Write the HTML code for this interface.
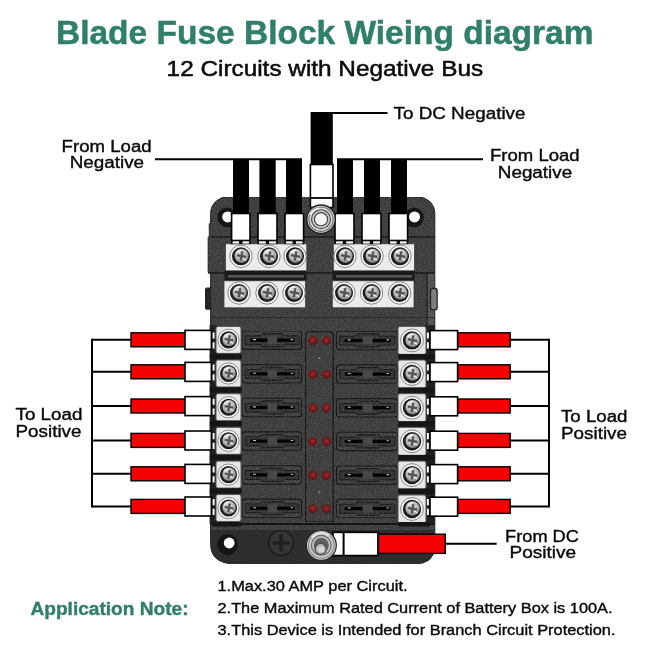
<!DOCTYPE html>
<html>
<head>
<meta charset="utf-8">
<title>Blade Fuse Block Wiring diagram</title>
<style>
html,body{margin:0;padding:0;background:#fff;}
body{width:650px;height:650px;overflow:hidden;font-family:"Liberation Sans",sans-serif;}
svg{display:block;position:absolute;left:0;top:0;opacity:0.9999;will-change:opacity;}
text{font-family:"Liberation Sans",sans-serif;}
</style>
</head>
<body>
<svg width="650" height="650" viewBox="0 0 650 650">
<defs>
  <filter id="grain" x="0" y="0" width="100%" height="100%" color-interpolation-filters="sRGB">
    <feTurbulence type="fractalNoise" baseFrequency="0.85" numOctaves="2" seed="7" result="n"/>
    <feColorMatrix in="n" type="matrix" values="0 0 0 0 0.75  0 0 0 0 0.75  0 0 0 0 0.75  0.4 0.4 0 0 -0.36" result="a"/>
    <feComposite in="a" in2="SourceGraphic" operator="in" result="g"/>
    <feMerge><feMergeNode in="SourceGraphic"/><feMergeNode in="g"/></feMerge>
  </filter>
  <radialGradient id="led" cx="0.5" cy="0.45" r="0.55">
    <stop offset="0" stop-color="#9c2c2c"/>
    <stop offset="0.55" stop-color="#801818"/>
    <stop offset="1" stop-color="#521414"/>
  </radialGradient>
  <radialGradient id="scr" cx="0.45" cy="0.4" r="0.6">
    <stop offset="0" stop-color="#e6e6e6"/>
    <stop offset="0.6" stop-color="#bcbcbc"/>
    <stop offset="1" stop-color="#7a7a7a"/>
  </radialGradient>
  <radialGradient id="stud" cx="0.45" cy="0.45" r="0.55">
    <stop offset="0" stop-color="#f4f4f4"/>
    <stop offset="0.3" stop-color="#bdbdbd"/>
    <stop offset="0.45" stop-color="#6d6d6d"/>
    <stop offset="0.6" stop-color="#d6d6d6"/>
    <stop offset="0.8" stop-color="#9a9a9a"/>
    <stop offset="1" stop-color="#4c4c4c"/>
  </radialGradient>
  <g id="screw">
    <circle r="11.2" fill="#f4f4f4" stroke="#7c7c7c" stroke-width="0.9"/>
    <circle r="9" fill="#1e1e1e"/>
    <circle cx="0.6" cy="-0.5" r="7.1" fill="url(#scr)"/>
    <path d="M-4.2 -0.8L-0.8 -0.8L-0.8 -4.2L0.8 -4.2L0.8 -0.8L4.2 -0.8L4.2 0.8L0.8 0.8L0.8 4.2L-0.8 4.2L-0.8 0.8L-4.2 0.8Z" fill="#5a5a5a" stroke="#3c3c3c" stroke-width="0.6" transform="translate(0.5 -0.3) rotate(10)"/>
    <path d="M-4 -3.8A6 6 0 0 1 0.5 -6.2" stroke="#fafafa" stroke-width="1.3" fill="none" stroke-linecap="round"/>
    <path d="M2.6 2.2L4.6 3.6" stroke="#f0f0f0" stroke-width="1.2" stroke-linecap="round"/>
  </g>
  <g id="term">
    <rect x="-12.5" y="-13.5" width="25" height="27" rx="2" fill="#e6e6e6" stroke="#555" stroke-width="1"/>
    <use href="#screw" transform="scale(0.95)"/>
  </g>
  <g id="termR">
    <rect x="-14" y="-14" width="28" height="28" rx="2" fill="#e6e6e6" stroke="#555" stroke-width="1"/>
    <use href="#screw" transform="scale(1.02)"/>
  </g>
  <g id="leds">
    <circle cx="-6.8" cy="0" r="4.4" fill="url(#led)"/>
    <circle cx="6.8" cy="0" r="4.4" fill="url(#led)"/>
  </g>
</defs>

<text x="56" y="43.7" font-size="32.5" font-weight="bold" fill="#2f7f6b" stroke="#2f7f6b" stroke-width="0.5" textLength="537.5" lengthAdjust="spacingAndGlyphs">Blade Fuse Block Wieing diagram</text>
<text x="166.6" y="76.4" font-size="22" fill="#0a0a0a" stroke="#0a0a0a" stroke-width="0.5" textLength="316.5" lengthAdjust="spacingAndGlyphs">12 Circuits with Negative Bus</text>
<path d="M155 159.3H302M337 159.3H483" stroke="#000" stroke-width="2" fill="none"/>
<path d="M321 113H387.5" stroke="#000" stroke-width="2" fill="none"/>
<g filter="url(#grain)">
<rect x="205" y="287.6" width="7" height="22.2" rx="1.8" fill="#1e1e1e"/>
<path d="M227 197H418.5A16.3 16.5 0 0 1 434.8 213.5V546Q434.8 564 414 564H236Q210.6 564 210.6 544V272.5H208.2V237H209.3V223.7H210.6V213.5A16.4 16.5 0 0 1 227 197Z" fill="#3a3a3a" stroke="#1c1c1c" stroke-width="1"/>
<rect x="427.2" y="273" width="7" height="55" fill="#505050"/>
<path d="M427.2 273V328" stroke="#1a1a1a" stroke-width="1.2"/>
<rect x="430.5" y="288.5" width="6.6" height="21.2" rx="2" fill="#7a7a7a" stroke="#1a1a1a" stroke-width="1.3"/>
</g>
<circle cx="227.2" cy="217.5" r="9.8" fill="#161616"/>
<circle cx="227.7" cy="216.9" r="5.5" fill="#fff"/>
<circle cx="414" cy="217.5" r="9.8" fill="#161616"/>
<circle cx="414.5" cy="216.9" r="5.5" fill="#fff"/>
<path d="M211.1 530H434.2V546Q434.2 563.5 414 563.5H236Q211.1 563.5 211.1 544Z" fill="#2d2d2d"/>
<path d="M211 524H434.5" stroke="#151515" stroke-width="2"/>
<circle cx="227.6" cy="544.6" r="10.4" fill="#141414"/><circle cx="229.2" cy="543" r="5.4" fill="#fff"/>
<circle cx="281" cy="543" r="12.3" fill="#353535" stroke="#1a1a1a" stroke-width="1.3"/>
<path d="M273.8 543H288.2M281 535.8V550.2" stroke="#202020" stroke-width="3.6" stroke-linecap="round"/>
<path d="M211 237H434.5" stroke="#1c1c1c" stroke-width="1.5"/>
<path d="M208.2 273H434.5" stroke="#181818" stroke-width="1.4"/>
<path d="M211 317.5H434.5" stroke="#2a2a2a" stroke-width="1"/>
<rect x="225.4" y="243.8" width="81.4" height="27.5" fill="#ebebeb" stroke="#3c3c3c" stroke-width="0.8"/>
<use href="#screw" x="241" y="256.3"/>
<use href="#screw" x="269" y="256.3"/>
<use href="#screw" x="295" y="256.3"/>
<rect x="333.3" y="243.8" width="81.19999999999999" height="27.5" fill="#ebebeb" stroke="#3c3c3c" stroke-width="0.8"/>
<use href="#screw" x="345" y="256.3"/>
<use href="#screw" x="372" y="256.3"/>
<use href="#screw" x="400" y="256.3"/>
<rect x="224.5" y="270.5" width="82" height="11" fill="#1b1b1b"/><rect x="332.5" y="270.5" width="82" height="11" fill="#1b1b1b"/>
<rect x="228" y="275" width="76" height="2.6" fill="#555"/><rect x="336" y="275" width="76" height="2.6" fill="#555"/>
<rect x="224" y="280.8" width="81.39999999999998" height="27.0" fill="#ebebeb" stroke="#3c3c3c" stroke-width="0.8"/>
<use href="#screw" x="239" y="293"/>
<use href="#screw" x="267" y="293"/>
<use href="#screw" x="294" y="293"/>
<rect x="332.3" y="280.8" width="81.69999999999999" height="27.0" fill="#ebebeb" stroke="#3c3c3c" stroke-width="0.8"/>
<use href="#screw" x="344" y="293"/>
<use href="#screw" x="371.6" y="293"/>
<use href="#screw" x="399.6" y="293"/>
<rect x="233" y="159" width="16" height="55" fill="#000"/>
<rect x="231.6" y="213.5" width="18.400000000000006" height="27" fill="#fff" stroke="#000" stroke-width="1.6"/>
<rect x="231.0" y="240" width="19.600000000000005" height="4.2" fill="#0c0c0c"/>
<rect x="232.6" y="241.3" width="6.5" height="2.3" fill="#f4f4f4"/><rect x="242.5" y="241.3" width="6.5" height="2.3" fill="#f4f4f4"/>
<rect x="259.4" y="159" width="16.30000000000001" height="55" fill="#000"/>
<rect x="258" y="213.5" width="19" height="27" fill="#fff" stroke="#000" stroke-width="1.6"/>
<rect x="257.4" y="240" width="20.2" height="4.2" fill="#0c0c0c"/>
<rect x="259" y="241.3" width="6.8" height="2.3" fill="#f4f4f4"/><rect x="269.2" y="241.3" width="6.8" height="2.3" fill="#f4f4f4"/>
<rect x="286" y="159" width="16" height="55" fill="#000"/>
<rect x="285" y="213.5" width="18.600000000000023" height="27" fill="#fff" stroke="#000" stroke-width="1.6"/>
<rect x="284.4" y="240" width="19.800000000000022" height="4.2" fill="#0c0c0c"/>
<rect x="286" y="241.3" width="6.6" height="2.3" fill="#f4f4f4"/><rect x="296.0" y="241.3" width="6.6" height="2.3" fill="#f4f4f4"/>
<rect x="337" y="159" width="16" height="55" fill="#000"/>
<rect x="335" y="213.5" width="19" height="27" fill="#fff" stroke="#000" stroke-width="1.6"/>
<rect x="334.4" y="240" width="20.2" height="4.2" fill="#0c0c0c"/>
<rect x="336" y="241.3" width="6.8" height="2.3" fill="#f4f4f4"/><rect x="346.2" y="241.3" width="6.8" height="2.3" fill="#f4f4f4"/>
<rect x="364" y="159" width="16" height="55" fill="#000"/>
<rect x="362" y="213.5" width="19" height="27" fill="#fff" stroke="#000" stroke-width="1.6"/>
<rect x="361.4" y="240" width="20.2" height="4.2" fill="#0c0c0c"/>
<rect x="363" y="241.3" width="6.8" height="2.3" fill="#f4f4f4"/><rect x="373.2" y="241.3" width="6.8" height="2.3" fill="#f4f4f4"/>
<rect x="391" y="159" width="16" height="55" fill="#000"/>
<rect x="389" y="213.5" width="18.600000000000023" height="27" fill="#fff" stroke="#000" stroke-width="1.6"/>
<rect x="388.4" y="240" width="19.800000000000022" height="4.2" fill="#0c0c0c"/>
<rect x="390" y="241.3" width="6.6" height="2.3" fill="#f4f4f4"/><rect x="400.0" y="241.3" width="6.6" height="2.3" fill="#f4f4f4"/>
<rect x="310.6" y="112" width="22.2" height="52.5" fill="#000"/>
<rect x="310.4" y="164.5" width="22.6" height="43" fill="#fff" stroke="#000" stroke-width="1.6"/>
<path d="M310.4 198H333" stroke="#000" stroke-width="1.8"/>
<circle cx="321" cy="219.2" r="14.30" fill="#e0e0e0" stroke="#222" stroke-width="1.5"/>
<circle cx="321" cy="219.2" r="12.73" fill="#6e6e6e"/>
<circle cx="321" cy="219.2" r="11.58" fill="#d6d6d6"/>
<circle cx="321" cy="219.2" r="10.01" fill="#4c4c4c"/>
<circle cx="321" cy="219.2" r="8.87" fill="#cccccc"/>
<circle cx="321" cy="219.2" r="7.15" fill="#3c3c3c"/>
<circle cx="321" cy="219.2" r="6.01" fill="#f5f5f5"/>
<path d="M310.7 214.2A11.4 11.4 0 0 1 318.1 208.2" stroke="#fff" stroke-width="1.6" fill="none" stroke-linecap="round"/>
<rect x="209.6" y="325" width="7" height="199" fill="#202020"/><rect x="425" y="325" width="9.6" height="199" fill="#202020"/>
<g filter="url(#grain)"><path d="M305.5 522V335.5Q305.5 331.5 309.5 331.5H329.2Q333.2 331.5 333.2 335.5V522Z" fill="#3a3a3a" stroke="#151515" stroke-width="1.3"/></g>
<g filter="url(#grain)">
<rect x="242" y="331.0" width="59.5" height="18.4" rx="3" fill="#3d3d3d" stroke="#121212" stroke-width="1.1"/>
<path d="M245.3 335.8H260.0L262.5 333.59999999999997H282.5L285.0 335.8H299.0V344.8H285.0L282.5 346.8H262.5L260.0 344.8H245.3Z" fill="#313131" stroke="#101010" stroke-width="0.9"/>
<rect x="336.5" y="331.3" width="61.0" height="18.4" rx="3" fill="#3d3d3d" stroke="#121212" stroke-width="1.1"/>
<path d="M339.8 336.1H355.0L357.5 333.9H378.0L380.5 336.1H395.0V345.1H380.5L378.0 347.1H357.5L355.0 345.1H339.8Z" fill="#313131" stroke="#101010" stroke-width="0.9"/>
<rect x="242" y="364.6" width="59.5" height="18.4" rx="3" fill="#3d3d3d" stroke="#121212" stroke-width="1.1"/>
<path d="M245.3 369.40000000000003H260.0L262.5 367.2H282.5L285.0 369.40000000000003H299.0V378.40000000000003H285.0L282.5 380.40000000000003H262.5L260.0 378.40000000000003H245.3Z" fill="#313131" stroke="#101010" stroke-width="0.9"/>
<rect x="336.5" y="364.90000000000003" width="61.0" height="18.4" rx="3" fill="#3d3d3d" stroke="#121212" stroke-width="1.1"/>
<path d="M339.8 369.70000000000005H355.0L357.5 367.5H378.0L380.5 369.70000000000005H395.0V378.70000000000005H380.5L378.0 380.70000000000005H357.5L355.0 378.70000000000005H339.8Z" fill="#313131" stroke="#101010" stroke-width="0.9"/>
<rect x="242" y="398.3" width="59.5" height="18.4" rx="3" fill="#3d3d3d" stroke="#121212" stroke-width="1.1"/>
<path d="M245.3 403.1H260.0L262.5 400.9H282.5L285.0 403.1H299.0V412.1H285.0L282.5 414.1H262.5L260.0 412.1H245.3Z" fill="#313131" stroke="#101010" stroke-width="0.9"/>
<rect x="336.5" y="398.6" width="61.0" height="18.4" rx="3" fill="#3d3d3d" stroke="#121212" stroke-width="1.1"/>
<path d="M339.8 403.40000000000003H355.0L357.5 401.2H378.0L380.5 403.40000000000003H395.0V412.40000000000003H380.5L378.0 414.40000000000003H357.5L355.0 412.40000000000003H339.8Z" fill="#313131" stroke="#101010" stroke-width="0.9"/>
<rect x="242" y="431.90000000000003" width="59.5" height="18.4" rx="3" fill="#3d3d3d" stroke="#121212" stroke-width="1.1"/>
<path d="M245.3 436.70000000000005H260.0L262.5 434.5H282.5L285.0 436.70000000000005H299.0V445.70000000000005H285.0L282.5 447.70000000000005H262.5L260.0 445.70000000000005H245.3Z" fill="#313131" stroke="#101010" stroke-width="0.9"/>
<rect x="336.5" y="432.20000000000005" width="61.0" height="18.4" rx="3" fill="#3d3d3d" stroke="#121212" stroke-width="1.1"/>
<path d="M339.8 437.00000000000006H355.0L357.5 434.8H378.0L380.5 437.00000000000006H395.0V446.00000000000006H380.5L378.0 448.00000000000006H357.5L355.0 446.00000000000006H339.8Z" fill="#313131" stroke="#101010" stroke-width="0.9"/>
<rect x="242" y="465.70000000000005" width="59.5" height="18.4" rx="3" fill="#3d3d3d" stroke="#121212" stroke-width="1.1"/>
<path d="M245.3 470.50000000000006H260.0L262.5 468.3H282.5L285.0 470.50000000000006H299.0V479.50000000000006H285.0L282.5 481.50000000000006H262.5L260.0 479.50000000000006H245.3Z" fill="#313131" stroke="#101010" stroke-width="0.9"/>
<rect x="336.5" y="466.00000000000006" width="61.0" height="18.4" rx="3" fill="#3d3d3d" stroke="#121212" stroke-width="1.1"/>
<path d="M339.8 470.80000000000007H355.0L357.5 468.6H378.0L380.5 470.80000000000007H395.0V479.80000000000007H380.5L378.0 481.80000000000007H357.5L355.0 479.80000000000007H339.8Z" fill="#313131" stroke="#101010" stroke-width="0.9"/>
<rect x="242" y="499.1" width="59.5" height="18.4" rx="3" fill="#3d3d3d" stroke="#121212" stroke-width="1.1"/>
<path d="M245.3 503.90000000000003H260.0L262.5 501.7H282.5L285.0 503.90000000000003H299.0V512.9H285.0L282.5 514.9H262.5L260.0 512.9H245.3Z" fill="#313131" stroke="#101010" stroke-width="0.9"/>
<rect x="336.5" y="499.40000000000003" width="61.0" height="18.4" rx="3" fill="#3d3d3d" stroke="#121212" stroke-width="1.1"/>
<path d="M339.8 504.20000000000005H355.0L357.5 502.0H378.0L380.5 504.20000000000005H395.0V513.2H380.5L378.0 515.2H357.5L355.0 513.2H339.8Z" fill="#313131" stroke="#101010" stroke-width="0.9"/>
</g>
<rect x="250.0" y="338.59999999999997" width="17.6" height="3.2" fill="#020202"/>
<rect x="277.1" y="338.59999999999997" width="17.6" height="3.2" fill="#020202"/>
<rect x="267.6" y="336.2" width="9.5" height="8" fill="#484848"/>
<path d="M253.0 339.59999999999997h3M290.7 339.59999999999997h2.5" stroke="#bdbdbd" stroke-width="1.1"/>
<rect x="344.7" y="338.9" width="18.0" height="3.2" fill="#020202"/>
<rect x="372.5" y="338.9" width="18.0" height="3.2" fill="#020202"/>
<rect x="362.7" y="336.5" width="9.8" height="8" fill="#484848"/>
<path d="M347.7 339.9h3M386.5 339.9h2.5" stroke="#bdbdbd" stroke-width="1.1"/>
<use href="#leds" x="319.7" y="340.7"/>
<use href="#term" x="228.5" y="339.9"/>
<use href="#termR" x="412" y="340.4"/>
<rect x="250.0" y="372.2" width="17.6" height="3.2" fill="#020202"/>
<rect x="277.1" y="372.2" width="17.6" height="3.2" fill="#020202"/>
<rect x="267.6" y="369.8" width="9.5" height="8" fill="#484848"/>
<path d="M253.0 373.2h3M290.7 373.2h2.5" stroke="#bdbdbd" stroke-width="1.1"/>
<rect x="344.7" y="372.5" width="18.0" height="3.2" fill="#020202"/>
<rect x="372.5" y="372.5" width="18.0" height="3.2" fill="#020202"/>
<rect x="362.7" y="370.1" width="9.8" height="8" fill="#484848"/>
<path d="M347.7 373.5h3M386.5 373.5h2.5" stroke="#bdbdbd" stroke-width="1.1"/>
<use href="#leds" x="319.7" y="374.3"/>
<use href="#term" x="228.5" y="373.5"/>
<use href="#termR" x="412" y="374.0"/>
<rect x="250.0" y="405.9" width="17.6" height="3.2" fill="#020202"/>
<rect x="277.1" y="405.9" width="17.6" height="3.2" fill="#020202"/>
<rect x="267.6" y="403.5" width="9.5" height="8" fill="#484848"/>
<path d="M253.0 406.9h3M290.7 406.9h2.5" stroke="#bdbdbd" stroke-width="1.1"/>
<rect x="344.7" y="406.2" width="18.0" height="3.2" fill="#020202"/>
<rect x="372.5" y="406.2" width="18.0" height="3.2" fill="#020202"/>
<rect x="362.7" y="403.8" width="9.8" height="8" fill="#484848"/>
<path d="M347.7 407.2h3M386.5 407.2h2.5" stroke="#bdbdbd" stroke-width="1.1"/>
<use href="#leds" x="319.7" y="408.0"/>
<use href="#term" x="228.5" y="407.2"/>
<use href="#termR" x="412" y="407.7"/>
<rect x="250.0" y="439.5" width="17.6" height="3.2" fill="#020202"/>
<rect x="277.1" y="439.5" width="17.6" height="3.2" fill="#020202"/>
<rect x="267.6" y="437.1" width="9.5" height="8" fill="#484848"/>
<path d="M253.0 440.5h3M290.7 440.5h2.5" stroke="#bdbdbd" stroke-width="1.1"/>
<rect x="344.7" y="439.8" width="18.0" height="3.2" fill="#020202"/>
<rect x="372.5" y="439.8" width="18.0" height="3.2" fill="#020202"/>
<rect x="362.7" y="437.40000000000003" width="9.8" height="8" fill="#484848"/>
<path d="M347.7 440.8h3M386.5 440.8h2.5" stroke="#bdbdbd" stroke-width="1.1"/>
<use href="#leds" x="319.7" y="441.6"/>
<use href="#term" x="228.5" y="440.8"/>
<use href="#termR" x="412" y="441.3"/>
<rect x="250.0" y="473.3" width="17.6" height="3.2" fill="#020202"/>
<rect x="277.1" y="473.3" width="17.6" height="3.2" fill="#020202"/>
<rect x="267.6" y="470.90000000000003" width="9.5" height="8" fill="#484848"/>
<path d="M253.0 474.3h3M290.7 474.3h2.5" stroke="#bdbdbd" stroke-width="1.1"/>
<rect x="344.7" y="473.6" width="18.0" height="3.2" fill="#020202"/>
<rect x="372.5" y="473.6" width="18.0" height="3.2" fill="#020202"/>
<rect x="362.7" y="471.20000000000005" width="9.8" height="8" fill="#484848"/>
<path d="M347.7 474.6h3M386.5 474.6h2.5" stroke="#bdbdbd" stroke-width="1.1"/>
<use href="#leds" x="319.7" y="475.40000000000003"/>
<use href="#term" x="228.5" y="474.6"/>
<use href="#termR" x="412" y="475.1"/>
<rect x="250.0" y="506.7" width="17.6" height="3.2" fill="#020202"/>
<rect x="277.1" y="506.7" width="17.6" height="3.2" fill="#020202"/>
<rect x="267.6" y="504.3" width="9.5" height="8" fill="#484848"/>
<path d="M253.0 507.7h3M290.7 507.7h2.5" stroke="#bdbdbd" stroke-width="1.1"/>
<rect x="344.7" y="507.0" width="18.0" height="3.2" fill="#020202"/>
<rect x="372.5" y="507.0" width="18.0" height="3.2" fill="#020202"/>
<rect x="362.7" y="504.6" width="9.8" height="8" fill="#484848"/>
<path d="M347.7 508.0h3M386.5 508.0h2.5" stroke="#bdbdbd" stroke-width="1.1"/>
<use href="#leds" x="319.7" y="508.8"/>
<use href="#term" x="228.5" y="508.0"/>
<use href="#termR" x="412" y="509.0"/>
<circle cx="319.4" cy="358.2" r="0.9" fill="#9a9a9a"/><circle cx="319.4" cy="492" r="0.9" fill="#8a8a8a"/>
<rect x="209.8" y="353.7" width="32" height="5.5" rx="1" fill="#161616"/>
<rect x="398" y="353.9" width="36.6" height="5.5" rx="1" fill="#161616"/>
<rect x="209.8" y="387.35" width="32" height="5.5" rx="1" fill="#161616"/>
<rect x="398" y="387.55" width="36.6" height="5.5" rx="1" fill="#161616"/>
<rect x="209.8" y="421.0" width="32" height="5.5" rx="1" fill="#161616"/>
<rect x="398" y="421.2" width="36.6" height="5.5" rx="1" fill="#161616"/>
<rect x="209.8" y="454.70000000000005" width="32" height="5.5" rx="1" fill="#161616"/>
<rect x="398" y="454.90000000000003" width="36.6" height="5.5" rx="1" fill="#161616"/>
<rect x="209.8" y="488.3" width="32" height="5.5" rx="1" fill="#161616"/>
<rect x="398" y="488.5" width="36.6" height="5.5" rx="1" fill="#161616"/>
<rect x="212" y="522" width="30" height="4.5" rx="1.5" fill="#161616"/><rect x="398" y="522" width="32" height="4.5" rx="1.5" fill="#161616"/>
<path d="M92 339.8H131" stroke="#000" stroke-width="2"/>
<rect x="131" y="332.8" width="54" height="14" fill="#f60000" stroke="#000" stroke-width="1.4"/>
<rect x="185" y="330.40000000000003" width="26.4" height="19" fill="#fff" stroke="#000" stroke-width="1.6"/>
<path d="M213.6 332.5V338.6M213.6 342.2V348.40000000000003" stroke="#fff" stroke-width="1.9"/>
<path d="M510 339.8H549" stroke="#000" stroke-width="2"/>
<rect x="457.6" y="332.8" width="52.6" height="14" fill="#f60000" stroke="#000" stroke-width="1.4"/>
<rect x="430" y="330.6" width="27.6" height="19" fill="#fff" stroke="#000" stroke-width="1.6"/>
<path d="M427.9 332.5V338.6M427.9 342.2V348.40000000000003" stroke="#fff" stroke-width="1.9"/>
<path d="M92 371.8H131" stroke="#000" stroke-width="2"/>
<rect x="131" y="364.8" width="54" height="14" fill="#f60000" stroke="#000" stroke-width="1.4"/>
<rect x="185" y="362.40000000000003" width="26.4" height="19" fill="#fff" stroke="#000" stroke-width="1.6"/>
<path d="M213.6 364.5V370.6M213.6 374.2V380.40000000000003" stroke="#fff" stroke-width="1.9"/>
<path d="M510 371.8H549" stroke="#000" stroke-width="2"/>
<rect x="457.6" y="364.8" width="52.6" height="14" fill="#f60000" stroke="#000" stroke-width="1.4"/>
<rect x="430" y="362.6" width="27.6" height="19" fill="#fff" stroke="#000" stroke-width="1.6"/>
<path d="M427.9 364.5V370.6M427.9 374.2V380.40000000000003" stroke="#fff" stroke-width="1.9"/>
<path d="M92 406H131" stroke="#000" stroke-width="2"/>
<rect x="131" y="399" width="54" height="14" fill="#f60000" stroke="#000" stroke-width="1.4"/>
<rect x="185" y="396.6" width="26.4" height="19" fill="#fff" stroke="#000" stroke-width="1.6"/>
<path d="M213.6 398.7V404.8M213.6 408.4V414.6" stroke="#fff" stroke-width="1.9"/>
<path d="M510 406H549" stroke="#000" stroke-width="2"/>
<rect x="457.6" y="399" width="52.6" height="14" fill="#f60000" stroke="#000" stroke-width="1.4"/>
<rect x="430" y="396.8" width="27.6" height="19" fill="#fff" stroke="#000" stroke-width="1.6"/>
<path d="M427.9 398.7V404.8M427.9 408.4V414.6" stroke="#fff" stroke-width="1.9"/>
<path d="M92 440.4H131" stroke="#000" stroke-width="2"/>
<rect x="131" y="433.4" width="54" height="14" fill="#f60000" stroke="#000" stroke-width="1.4"/>
<rect x="185" y="431.0" width="26.4" height="19" fill="#fff" stroke="#000" stroke-width="1.6"/>
<path d="M213.6 433.09999999999997V439.2M213.6 442.79999999999995V449.0" stroke="#fff" stroke-width="1.9"/>
<path d="M510 440.4H549" stroke="#000" stroke-width="2"/>
<rect x="457.6" y="433.4" width="52.6" height="14" fill="#f60000" stroke="#000" stroke-width="1.4"/>
<rect x="430" y="431.2" width="27.6" height="19" fill="#fff" stroke="#000" stroke-width="1.6"/>
<path d="M427.9 433.09999999999997V439.2M427.9 442.79999999999995V449.0" stroke="#fff" stroke-width="1.9"/>
<path d="M92 473.8H131" stroke="#000" stroke-width="2"/>
<rect x="131" y="466.8" width="54" height="14" fill="#f60000" stroke="#000" stroke-width="1.4"/>
<rect x="185" y="464.40000000000003" width="26.4" height="19" fill="#fff" stroke="#000" stroke-width="1.6"/>
<path d="M213.6 466.5V472.6M213.6 476.2V482.40000000000003" stroke="#fff" stroke-width="1.9"/>
<path d="M510 473.8H549" stroke="#000" stroke-width="2"/>
<rect x="457.6" y="466.8" width="52.6" height="14" fill="#f60000" stroke="#000" stroke-width="1.4"/>
<rect x="430" y="464.6" width="27.6" height="19" fill="#fff" stroke="#000" stroke-width="1.6"/>
<path d="M427.9 466.5V472.6M427.9 476.2V482.40000000000003" stroke="#fff" stroke-width="1.9"/>
<path d="M92 506.4H131" stroke="#000" stroke-width="2"/>
<rect x="131" y="499.4" width="54" height="14" fill="#f60000" stroke="#000" stroke-width="1.4"/>
<rect x="185" y="497.0" width="26.4" height="19" fill="#fff" stroke="#000" stroke-width="1.6"/>
<path d="M213.6 499.09999999999997V505.2M213.6 508.79999999999995V515.0" stroke="#fff" stroke-width="1.9"/>
<path d="M510 506.4H549" stroke="#000" stroke-width="2"/>
<rect x="457.6" y="499.4" width="52.6" height="14" fill="#f60000" stroke="#000" stroke-width="1.4"/>
<rect x="430" y="497.2" width="27.6" height="19" fill="#fff" stroke="#000" stroke-width="1.6"/>
<path d="M427.9 499.09999999999997V505.2M427.9 508.79999999999995V515.0" stroke="#fff" stroke-width="1.9"/>
<path d="M92 338.8V507.4M549 338.8V507.4" stroke="#000" stroke-width="2"/>
<rect x="333" y="532.3" width="45" height="23.3" fill="#fff" stroke="#000" stroke-width="1.7"/>
<path d="M343.6 532V556" stroke="#000" stroke-width="2"/>
<rect x="378.5" y="534.2" width="66.8" height="19.2" fill="#f60000" stroke="#000" stroke-width="1.4"/>
<path d="M445.5 543.8H496.7" stroke="#000" stroke-width="2"/>
<circle cx="321.3" cy="545.3" r="15.00" fill="#d2d2d2" stroke="#2a2a2a" stroke-width="1.3"/>
<circle cx="321.3" cy="545.3" r="13.50" fill="#8a8a8a"/>
<circle cx="321.3" cy="545.3" r="12.30" fill="#c9c9c9"/>
<circle cx="321.3" cy="545.3" r="10.50" fill="#6a6a6a"/>
<circle cx="321.3" cy="545.3" r="9.30" fill="#bdbdbd"/>
<circle cx="321.3" cy="545.3" r="7.50" fill="#606060"/>
<circle cx="320.7" cy="548.9" r="5.55" fill="#b9b9b9" stroke="#4a4a4a" stroke-width="1.2"/>
<circle cx="321.1" cy="549.5" r="3.00" fill="#d8d8d8"/>
<path d="M312.0 537.0A12.4 12.4 0 0 1 328.8 535.4" stroke="#f2f2f2" stroke-width="1.5" fill="none" stroke-linecap="round"/>
<text x="61.6" y="151.8" font-size="17.3" fill="#0a0a0a" stroke="#0a0a0a" stroke-width="0.4" textLength="90" lengthAdjust="spacingAndGlyphs">From Load</text>
<text x="69.7" y="168.4" font-size="17.3" fill="#0a0a0a" stroke="#0a0a0a" stroke-width="0.4" textLength="74.4" lengthAdjust="spacingAndGlyphs">Negative</text>
<text x="393.5" y="118.8" font-size="17.3" fill="#0a0a0a" stroke="#0a0a0a" stroke-width="0.4" textLength="132" lengthAdjust="spacingAndGlyphs">To DC Negative</text>
<text x="490" y="161.1" font-size="17.3" fill="#0a0a0a" stroke="#0a0a0a" stroke-width="0.4" textLength="89.7" lengthAdjust="spacingAndGlyphs">From Load</text>
<text x="497.8" y="178" font-size="17.3" fill="#0a0a0a" stroke="#0a0a0a" stroke-width="0.4" textLength="74.4" lengthAdjust="spacingAndGlyphs">Negative</text>
<text x="15.5" y="419.9" font-size="17.3" fill="#0a0a0a" stroke="#0a0a0a" stroke-width="0.4" textLength="66.9" lengthAdjust="spacingAndGlyphs">To Load</text>
<text x="15.5" y="436.7" font-size="17.3" fill="#0a0a0a" stroke="#0a0a0a" stroke-width="0.4" textLength="66" lengthAdjust="spacingAndGlyphs">Positive</text>
<text x="561" y="422.4" font-size="17.3" fill="#0a0a0a" stroke="#0a0a0a" stroke-width="0.4" textLength="66.4" lengthAdjust="spacingAndGlyphs">To Load</text>
<text x="561" y="439.2" font-size="17.3" fill="#0a0a0a" stroke="#0a0a0a" stroke-width="0.4" textLength="66" lengthAdjust="spacingAndGlyphs">Positive</text>
<text x="505.1" y="541.5" font-size="17.3" fill="#0a0a0a" stroke="#0a0a0a" stroke-width="0.4" textLength="73.8" lengthAdjust="spacingAndGlyphs">From DC</text>
<text x="509.5" y="558.4" font-size="17.3" fill="#0a0a0a" stroke="#0a0a0a" stroke-width="0.4" textLength="66.7" lengthAdjust="spacingAndGlyphs">Positive</text>
<text x="30.5" y="614.8" font-size="18" font-weight="bold" fill="#2f7f6b" stroke="#2f7f6b" stroke-width="0.4" textLength="158" lengthAdjust="spacingAndGlyphs">Application Note:</text>
<text x="217.5" y="591.3" font-size="15.5" fill="#0a0a0a" stroke="#0a0a0a" stroke-width="0.4" textLength="190" lengthAdjust="spacingAndGlyphs">1.Max.30 AMP per Circuit.</text>
<text x="217.5" y="613.1" font-size="15.5" fill="#0a0a0a" stroke="#0a0a0a" stroke-width="0.4" textLength="395" lengthAdjust="spacingAndGlyphs">2.The Maximum Rated Current of Battery Box is 100A.</text>
<text x="217.5" y="634.5" font-size="15.5" fill="#0a0a0a" stroke="#0a0a0a" stroke-width="0.4" textLength="398" lengthAdjust="spacingAndGlyphs">3.This Device is Intended for Branch Circuit Protection.</text>
</svg>
</body>
</html>
